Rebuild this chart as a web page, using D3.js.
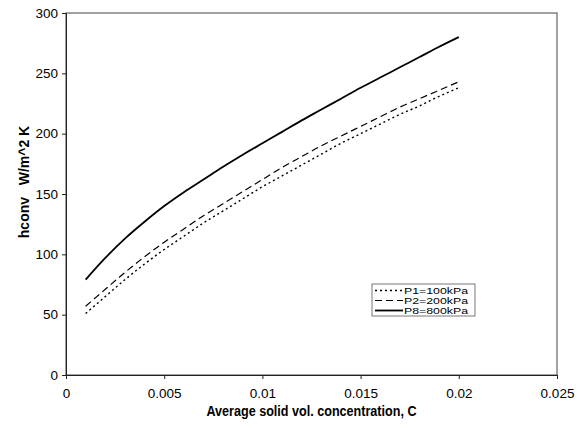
<!DOCTYPE html>
<html>
<head>
<meta charset="utf-8">
<script src="https://cdn.jsdelivr.net/npm/d3@7"></script>
<style>
body{margin:0;background:#fff;}
svg{display:block;}
</style>
</head>
<body>
<svg id="chart" width="584" height="430"></svg>
<script>
const concentration = [0.001,0.002,0.003,0.004,0.005,0.006,0.007,0.008,0.009,0.010,0.011,0.012,0.013,0.014,0.015,0.016,0.017,0.018,0.019,0.020];
const p1 = [51,65,79,92,104,115,126,136,146,156,165,174,183,192,200,208,216,223,231,238];
const p2 = [57,71,85,98,110,121,132,142,152,162,172,181,190,198,206,214,222,229,236,243];
const p8 = [79,97,113,127,140,151.5,162,172.5,182.5,192,201.5,211,220,229,238,246.5,255,263.5,272,280];
const seriesNames = ["P1=100kPa","P2=200kPa","P8=800kPa"];
const xTicks = [0,0.005,0.01,0.015,0.02,0.025];
const yTicks = [0,50,100,150,200,250,300];

const svg = d3.select("#chart");
const m = {l:66, r:557, t:13, b:375};
const x = d3.scaleLinear().domain([0,0.025]).range([m.l,m.r]);
const y = d3.scaleLinear().domain([0,300]).range([m.b,m.t]);
const font = "Arial, 'Liberation Sans', sans-serif";

// frame
svg.append("rect").attr("x",m.l).attr("y",m.t).attr("width",m.r-m.l).attr("height",m.b-m.t)
  .attr("fill","none").attr("stroke","#444").attr("stroke-width",1);

const xAxis = svg.append("g").attr("transform",`translate(0,${m.b})`)
  .call(d3.axisBottom(x).tickValues(xTicks).tickFormat(d=>d===0?"0":String(+d.toFixed(3))).tickSize(4).tickPadding(9));
const yAxis = svg.append("g").attr("transform",`translate(${m.l},0)`)
  .call(d3.axisLeft(y).tickValues(yTicks).tickSize(4).tickPadding(4));
[xAxis,yAxis].forEach(a=>{
  a.select(".domain").attr("stroke","#222");
  a.selectAll(".tick line").attr("stroke","#222");
  a.selectAll("text").attr("fill","#000").style("font-family",font).style("font-size","13.5px");
});

const styles = [
  {dash:"2,3", width:1.4},
  {dash:"7,4", width:1.2},
  {dash:null, width:1.8}
];
const data = [p1,p2,p8];
const line = d3.line().x(d=>x(d[0])).y(d=>y(d[1])).curve(d3.curveMonotoneX);
data.forEach((s,i)=>{
  svg.append("path").datum(concentration.map((c,j)=>[c,s[j]]))
    .attr("d",line).attr("fill","none").attr("stroke","#000")
    .attr("stroke-width",styles[i].width)
    .attr("stroke-dasharray",styles[i].dash);
});

// legend
const lg = svg.append("g");
lg.append("rect").attr("x",372).attr("y",284).attr("width",103).attr("height",32)
  .attr("fill","#fff").attr("stroke","#555").attr("stroke-width",0.8);
seriesNames.forEach((n,i)=>{
  const yy = 290.5 + i*10;
  lg.append("line").attr("x1",375).attr("x2",403).attr("y1",yy).attr("y2",yy)
    .attr("stroke","#000").attr("stroke-width",styles[i].width)
    .attr("stroke-dasharray",styles[i].dash);
  lg.append("text").attr("x",404).attr("y",yy+3.5).text(n)
    .attr("textLength",64).attr("lengthAdjust","spacingAndGlyphs")
    .style("font-family",font).style("font-size","9.5px");
});

svg.append("text").attr("x",(m.l+m.r)/2).attr("y",416).attr("text-anchor","middle")
  .attr("textLength",210).attr("lengthAdjust","spacingAndGlyphs")
  .style("font-family",font).style("font-size","14.5px").style("font-weight","bold")
  .text("Average solid vol. concentration, C");
svg.append("text").attr("transform",`translate(29,182) rotate(-90)`).attr("text-anchor","middle")
  .style("font-family",font).style("font-size","14px").style("font-weight","bold")
  .style("white-space","pre")
  .text("hconv   W/m^2 K");
</script>
</body>
</html>
